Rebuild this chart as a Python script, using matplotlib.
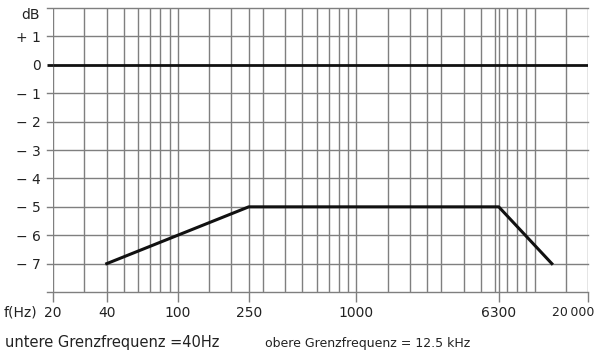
import matplotlib
matplotlib.use("Agg")
import matplotlib.pyplot as plt

# Data
curve_freq = [40, 250, 6300, 12500]
curve_db = [-7, -5, -5, -7]
ref_freq = [20, 20000]
ref_db = [0, 0]

x_ticks = [20, 40, 100, 250, 1000, 6300, 20000]
x_tick_labels = ["20", "40", "100", "250", "1000", "6300", "20\u2009000"]
y_ticks = [1, 0, -1, -2, -3, -4, -5, -6, -7]
y_tick_labels = ["+ 1", "0", "\u2212 1", "\u2212 2", "\u2212 3", "\u2212 4", "\u2212 5", "\u2212 6", "\u2212 7"]
grid_freqs = [20, 30, 40, 50, 60, 70, 80, 90, 100, 150, 200, 250, 300, 400, 500,
              600, 700, 800, 900, 1000, 1500, 2000, 2500, 3000, 4000, 5000, 6000,
              6300, 7000, 8000, 9000, 10000, 15000, 20000]
grid_db = [2, 1, -1, -2, -3, -4, -5, -6, -7, -8]

plt.rcParams['font.family'] = ['DejaVu Sans']
fig = plt.figure(figsize=(5.96, 3.51), dpi=100)
ax = fig.add_axes([0.089, 0.168, 0.898, 0.809])
ax.set_xscale('log')
ax.set_xlim(20, 20000)
ax.set_ylim(-8, 2)

gc = '#7f7f7f'
ext = 18.5  # slight extension of horizontal lines left of the frame
for f in grid_freqs:
    ax.axvline(f, color=gc, lw=1.0, zorder=1)
for d in grid_db:
    ax.plot([ext, 20000], [d, d], color=gc, lw=1.0, zorder=1, clip_on=False)

ax.plot([ext, 20], [0, 0], color='#111111', lw=2.0, clip_on=False, solid_capstyle='butt')
ax.plot(ref_freq, ref_db, color='#111111', lw=2.0, zorder=3, solid_capstyle='butt')
ax.plot(curve_freq, curve_db, color='#111111', lw=2.2, zorder=3)

for s in ax.spines.values():
    s.set_visible(False)

ax.set_xticks(x_ticks)
ax.set_xticklabels(x_tick_labels[:-1] + [""])
ax.xaxis.set_minor_locator(matplotlib.ticker.NullLocator())
ax.tick_params(axis='x', length=7, width=1.0, color=gc, pad=3, labelsize=10, labelcolor='#222222')
ax.set_yticks(y_ticks)
ax.set_yticklabels(y_tick_labels)
ax.tick_params(axis='y', length=0, pad=9, labelsize=10, labelcolor='#222222')

# last x label right-aligned near the figure edge so it stays inside
fig.text(594 / 596, 1 - 312 / 351, x_tick_labels[-1], ha='right', va='center', fontsize=9, color='#222222')

fig.text(40 / 596, 1 - 15 / 351, "dB", ha='right', va='center', fontsize=10, color='#222222')
fig.text(4 / 596, 1 - 312 / 351, "f(Hz)", ha='left', va='center', fontsize=10, color='#222222')
fig.text(5 / 596, 1 - 343 / 351, "untere Grenzfrequenz =40Hz", ha='left', va='center', fontsize=10.5, color='#222222')
fig.text(265 / 596, 1 - 343 / 351, "obere Grenzfrequenz = 12.5 kHz", ha='left', va='center', fontsize=9.0, color='#222222')

fig.savefig("out.png", dpi=100, facecolor='white')
